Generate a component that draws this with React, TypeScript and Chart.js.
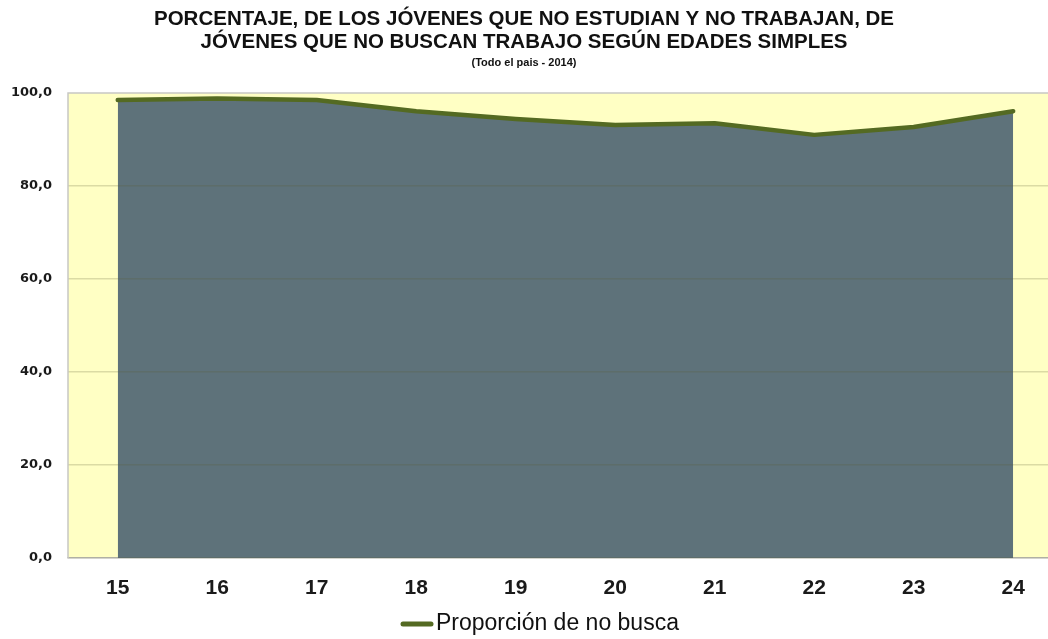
import React, { useEffect, useRef } from "react";
import { Chart, registerables } from "chart.js";

Chart.register(...registerables);

const ages: number[] = [15, 16, 17, 18, 19, 20, 21, 22, 23, 24];
const noBusca: number[] = [98.5, 98.8, 98.5, 96.1, 94.4, 93.1, 93.5, 91.0, 92.7, 96.1];
const yTicks: number[] = [0, 20, 40, 60, 80, 100];

const titleLines = [
  "PORCENTAJE, DE LOS JÓVENES QUE NO ESTUDIAN Y NO TRABAJAN, DE",
  "JÓVENES QUE NO BUSCAN TRABAJO SEGÚN EDADES SIMPLES",
];
const subtitleText = "(Todo el pais - 2014)";
const seriesLabel = "Proporción de no busca";

const FONT = "'Liberation Sans', Arial, sans-serif";
const YFONT = "'DejaVu Sans', Verdana, sans-serif";
const LINE_COLOR = "#546a22";
const FILL_COLOR = "#5e727a";
const PLOT_BG = "#ffffc4";
const FRAME = "#c8c8c4";

const plotBg = {
  id: "plotBg",
  beforeDraw(chart: any) {
    const { ctx, chartArea } = chart;
    if (!chartArea) return;
    ctx.save();
    ctx.fillStyle = PLOT_BG;
    ctx.fillRect(chartArea.left, chartArea.top, chartArea.right - chartArea.left, chartArea.bottom - chartArea.top);
    ctx.restore();
  },
  afterDraw(chart: any) {
    const { ctx, chartArea } = chart;
    if (!chartArea) return;
    ctx.save();
    ctx.strokeStyle = FRAME;
    ctx.lineWidth = 1.5;
    ctx.beginPath();
    ctx.moveTo(chartArea.left, chartArea.bottom);
    ctx.lineTo(chartArea.left, chartArea.top);
    ctx.lineTo(chartArea.right, chartArea.top);
    ctx.stroke();
    // legend
    const y = 624;
    ctx.strokeStyle = LINE_COLOR;
    ctx.lineWidth = 5;
    ctx.lineCap = "round";
    ctx.beginPath();
    ctx.moveTo(403, y);
    ctx.lineTo(431, y);
    ctx.stroke();
    ctx.fillStyle = "#111";
    ctx.font = "23px " + FONT;
    ctx.textBaseline = "middle";
    ctx.textAlign = "left";
    ctx.fillText(seriesLabel, 436, y);
    ctx.restore();
  },
};

export default function App() {
  const ref = useRef<HTMLCanvasElement | null>(null);
  useEffect(() => {
    if (!ref.current) return;
    const chart = new Chart(ref.current, {
      type: "line",
      data: {
        datasets: [
          {
            label: seriesLabel,
            data: ages.map((a, i) => ({ x: a, y: noBusca[i] })),
            borderColor: LINE_COLOR,
            backgroundColor: FILL_COLOR,
            borderWidth: 4.5,
            borderCapStyle: "round",
            borderJoinStyle: "round",
            fill: "origin",
            tension: 0,
            pointRadius: 0,
          },
        ],
      },
      options: {
        animation: false,
        responsive: false,
        maintainAspectRatio: false,
        layout: { padding: { left: 0, right: 0, top: 0, bottom: 30 } },
        scales: {
          x: {
            type: "linear",
            min: 14.5,
            max: 24.35,
            afterBuildTicks: (scale: any) => {
              scale.ticks = ages.map((v) => ({ value: v }));
            },
            afterFit: (scale: any) => {
              scale.height = 51;
            },
            grid: { display: false, drawTicks: false },
            border: { display: true, color: FRAME, width: 1.5 },
            ticks: {
              padding: 18,
              color: "#1a1a1a",
              font: { family: FONT, size: 21, weight: "bold" },
              callback: (v: any) => String(v),
            },
          },
          y: {
            min: 0,
            max: 100,
            afterBuildTicks: (scale: any) => {
              scale.ticks = yTicks.map((v) => ({ value: v }));
            },
            afterFit: (scale: any) => {
              scale.width = 68;
            },
            grid: {
              z: 1,
              drawTicks: false,
              color: (c: any) => (c.tick && c.tick.value === 100 ? "rgba(0,0,0,0)" : "rgba(90,90,50,0.22)"),
              lineWidth: 1.5,
            },
            border: { display: false },
            ticks: {
              padding: 16,
              color: "#1a1a1a",
              font: { family: YFONT, size: 13, weight: "bold" },
              callback: (v: any) => Number(v).toFixed(1).replace(".", ","),
            },
          },
        },
        plugins: {
          title: {
            display: true,
            text: titleLines,
            color: "#111",
            font: { family: FONT, size: 20.5, weight: "bold", lineHeight: 1.12 },
            padding: { top: 8, bottom: 0 },
          },
          subtitle: {
            display: true,
            text: subtitleText,
            color: "#111",
            font: { family: FONT, size: 11, weight: "bold", lineHeight: 1.1 },
            padding: { top: 3, bottom: 24 },
          },
          legend: { display: false },
          tooltip: { enabled: false },
        },
      },
      plugins: [plotBg],
    } as any);
    return () => chart.destroy();
  }, []);
  return (
    <div style={{ position: "absolute", left: 0, top: 0, width: 1048, height: 639, background: "#fff" }}>
      <canvas ref={ref} width={1048} height={639} style={{ display: "block" }} />
    </div>
  );
}
